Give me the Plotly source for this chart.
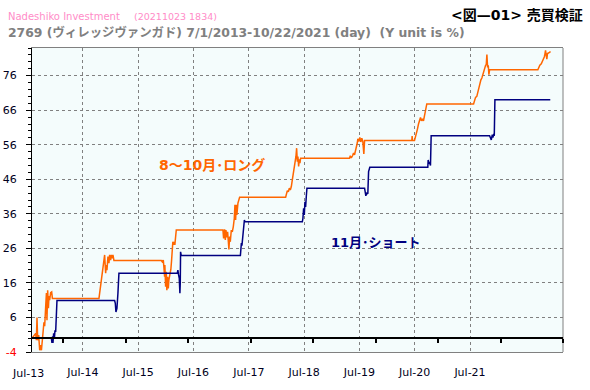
import numpy as np
import pandas as pd
import plotly.graph_objects as go

# ---------------- data (dates as decimal years, values in %) ----------------
long_years = [
    2013.496, 2013.555, 2013.566, 2013.576, 2013.587, 2013.603, 2013.619, 2013.635, 2013.647,
    2013.659, 2013.672, 2013.687, 2013.699, 2013.715, 2013.727, 2013.736, 2013.747, 2013.759,
    2013.768, 2013.779, 2013.795, 2013.811, 2013.823,
    2014.569, 2014.580, 2014.591, 2014.607, 2014.623, 2014.644, 2014.660, 2014.676, 2014.687,
    2014.697, 2014.713, 2014.729, 2014.740, 2014.756, 2014.767, 2014.783, 2014.793, 2014.809,
    2015.568, 2015.584, 2015.600, 2015.609, 2015.621, 2015.625, 2015.637, 2015.648, 2015.657,
    2015.669, 2015.680, 2015.689, 2015.705, 2015.721, 2015.733, 2015.744, 2015.753, 2015.765,
    2015.776, 2015.785, 2015.797, 2015.808,
    2016.554, 2016.565, 2016.581, 2016.592, 2016.602, 2016.618, 2016.629, 2016.640, 2016.650,
    2016.661, 2016.672, 2016.688, 2016.704, 2016.720, 2016.736, 2016.746, 2016.757, 2016.768,
    2016.777, 2016.794, 2016.810, 2016.821,
    2017.558, 2017.569, 2017.585, 2017.601, 2017.617, 2017.633, 2017.649, 2017.665, 2017.681,
    2017.697, 2017.713, 2017.723, 2017.734, 2017.745, 2017.755, 2017.766, 2017.777, 2017.787,
    2017.798,
    2018.582, 2018.594, 2018.610, 2018.630, 2018.646, 2018.662, 2018.678, 2018.694, 2018.706,
    2018.715, 2018.731, 2018.747, 2018.763, 2018.779, 2018.795, 2018.811, 2018.823,
    2019.580, 2019.585, 2019.591,
    2019.623, 2019.639, 2019.655, 2019.671, 2019.687, 2019.703, 2019.719, 2019.735, 2019.751,
    2019.767, 2019.783, 2019.799, 2019.810, 2019.820,
    2020.568, 2020.584, 2020.600, 2020.620, 2020.636, 2020.653, 2020.669, 2020.685, 2020.701,
    2020.717, 2020.733, 2020.749, 2020.760, 2020.771, 2020.781, 2020.792, 2020.803, 2020.813,
    2020.824,
    2021.597, 2021.613, 2021.629, 2021.652, 2021.668, 2021.684, 2021.700, 2021.709, 2021.720,
    2021.732, 2021.741, 2021.752, 2021.768, 2021.784, 2021.800,
]
long_values = [
    0.0, 1.4, -0.6, 6.0, -0.6, 0.9, -3.5, -2.0, -3.5,
    0.9, 1.5, 4.6, 3.5, 9.1, 13.1, 5.2, 13.9, 8.7,
    12.2, 11.0, 13.2, 13.4, 11.5,
    11.5, 13.0, 13.9, 16.3, 18.8, 20.7, 24.1, 18.8, 21.2,
    19.7, 23.6, 21.7, 24.1, 22.6, 24.1, 23.1, 24.1, 22.5,
    22.5, 22.1, 22.6, 20.7, 17.8, 21.2, 14.9, 19.2, 13.9,
    17.8, 14.4, 16.8, 18.3, 19.9, 22.6, 27.5, 27.9, 27.0,
    27.9, 27.0, 29.9, 31.3,
    31.3, 28.9, 31.5, 28.4, 31.3, 29.2, 30.8, 28.4, 25.7,
    29.4, 27.9, 31.3, 30.8, 32.3, 34.7, 38.6, 34.2, 38.6,
    35.7, 39.1, 40.5, 40.8,
    40.8, 41.5, 42.7, 42.4, 43.4, 42.9, 43.9, 45.8, 47.8,
    48.9, 50.7, 52.6, 55.0, 51.1, 52.6, 49.7, 51.8, 50.7,
    52.1,
    52.1, 52.8, 52.2, 52.8, 53.6, 53.1, 54.2, 55.0, 56.5,
    57.7, 56.9, 58.1, 56.8, 57.9, 56.9, 53.3, 57.2,
    57.2, 58.5, 57.2,
    57.2, 58.7, 59.8, 60.6, 62.0, 63.5, 63.9, 62.9, 63.5,
    62.9, 64.7, 65.6, 66.8, 67.8,
    67.8, 68.5, 69.7, 70.0, 71.4, 72.9, 74.2, 74.8, 75.3,
    76.5, 77.2, 78.2, 79.0, 79.2, 82.1, 78.4, 79.0, 76.3,
    77.7,
    77.7, 78.7, 79.0, 79.4, 80.0, 80.6, 81.4, 82.1, 83.3,
    81.8, 80.8, 82.4, 82.5, 82.7, 83.0,
]

short_years = [
    2013.496, 2013.807, 2013.816, 2013.827, 2013.832, 2013.843, 2013.855, 2013.864, 2013.875,
    2013.887, 2013.896,
    2014.820, 2014.831, 2014.841, 2014.857, 2014.873, 2014.889,
    2015.824, 2015.834, 2015.845, 2015.856, 2015.866, 2015.872, 2015.877, 2015.888,
    2016.833, 2016.837, 2016.849, 2016.858, 2016.869, 2016.885, 2016.897, 2016.906,
    2017.825, 2017.835, 2017.846, 2017.857, 2017.867, 2017.878, 2017.889, 2017.899,
    2018.823, 2018.834, 2018.843, 2018.859, 2018.875, 2018.887, 2018.898, 2018.907,
    2019.836, 2019.842, 2019.852, 2019.863, 2019.879, 2019.890,
    2020.824, 2020.840, 2020.851, 2020.867, 2020.877, 2020.888, 2020.899, 2020.909,
    2021.796,
]
short_values = [
    0.0, 0.0, -1.4, 0.5, -1.4, 1.4, 0.0, 2.3, 1.8,
    8.1, 10.9,
    10.9, 10.1, 7.6, 8.6, 13.0, 18.8,
    18.8, 19.7, 18.3, 17.3, 13.0, 16.0, 25.0, 23.9,
    23.9, 26.5, 27.5, 26.8, 28.9, 31.3, 34.2, 33.7,
    33.7, 34.7, 37.6, 35.7, 39.5, 38.0, 41.0, 43.4,
    43.4, 42.4, 41.2, 42.0, 41.8, 48.2, 48.7, 49.5,
    49.5, 51.6, 50.5, 51.0, 50.0, 58.6,
    58.6, 58.0, 57.4, 58.9, 58.1, 58.8, 58.6, 69.0,
    69.0,
]

x_tick_labels = ["Jul-13", "Jul-14", "Jul-15", "Jul-16", "Jul-17",
                 "Jul-18", "Jul-19", "Jul-20", "Jul-21"]
y_tick_values = [-4, 6, 16, 26, 36, 46, 56, 66, 76]
year_marks = [2014, 2015, 2016, 2017, 2018, 2019, 2020, 2021, 2022]

long_label = "8〜10月･ロング"
short_label = "11月･ショート"
title_brand = "Nadeshiko Investment"
title_stamp = "(20211023 1834)"
title_main = "2769 (ヴィレッジヴァンガド) 7/1/2013-10/22/2021 (day)\u00a0 (Y unit is %)"
title_right = "<図—01> 売買検証"

# ---------------- helpers ----------------
def dec_to_dt(y):
    yr = int(np.floor(y))
    start = pd.Timestamp(year=yr, month=1, day=1)
    end = pd.Timestamp(year=yr + 1, month=1, day=1)
    return start + (end - start) * (y - yr)

W, H = 590, 390
ML, MR, MT, MB = 32, 27, 48, 38
PW, PH = W - ML - MR, H - MT - MB

def fx(px):
    return (px - ML) / PW

def fy(py):
    return 1 - (py - MT) / PH

X_RANGE = [pd.Timestamp("2013-07-01"), pd.Timestamp("2022-01-01")]
Y_RANGE = [-4, 84]
GRID_FIRST, GRID_STEP = 2013.427, 0.8855   # label/grid placement of the source chart

grid_dates = [dec_to_dt(GRID_FIRST + k * GRID_STEP) for k in range(len(x_tick_labels))]

FONT = "DejaVu Sans, Verdana, Noto Sans CJK JP, sans-serif"
TICK_COLOR = "#000020"

fig = go.Figure()
fig.add_trace(go.Scatter(
    x=[dec_to_dt(v) for v in long_years], y=long_values, mode="lines",
    line=dict(color="#FF6600", width=1.5), showlegend=False, hoverinfo="skip"))
fig.add_trace(go.Scatter(
    x=[dec_to_dt(v) for v in short_years], y=short_values, mode="lines",
    line=dict(color="#000080", width=1.5), showlegend=False, hoverinfo="skip"))
fig.add_trace(go.Scatter(x=[], y=[], xaxis="x2", showlegend=False))

y_text = [f'<span style="color:red">{v}</span>' if v < 0 else str(v) for v in y_tick_values]

fig.update_layout(
    width=W, height=H,
    margin=dict(l=ML, r=MR, t=MT, b=MB, pad=0, autoexpand=False),
    paper_bgcolor="white", plot_bgcolor="#F4FCFC",
    font=dict(family=FONT, size=11, color=TICK_COLOR),
    xaxis=dict(
        type="date", range=X_RANGE, tickmode="array",
        tickvals=grid_dates[1:], ticktext=x_tick_labels[1:],
        showgrid=True, gridcolor="#808080", griddash="3px,3px", gridwidth=1,
        showline=True, linecolor="#808080", linewidth=1, mirror=True,
        ticks="", ticklabelstandoff=10, zeroline=False, automargin=False,
        tickfont=dict(size=11, color=TICK_COLOR, family=FONT),
    ),
    xaxis2=dict(
        type="date", range=X_RANGE, overlaying="x", anchor="free",
        position=(0 - Y_RANGE[0]) / (Y_RANGE[1] - Y_RANGE[0]), side="bottom",
        tickmode="array", tickvals=[pd.Timestamp(year=y, month=1, day=1) for y in year_marks],
        showticklabels=False, ticks="outside", ticklen=4, tickwidth=2, tickcolor="black",
        showline=True, linecolor="black", linewidth=1.5, showgrid=False, zeroline=False,
        automargin=False,
    ),
    yaxis=dict(
        range=Y_RANGE, tickmode="array", tickvals=y_tick_values, ticktext=y_text,
        showgrid=True, gridcolor="#808080", griddash="3px,3px", gridwidth=1,
        showline=True, linecolor="black", linewidth=1, mirror=False,
        ticks="outside", ticklen=5, tickcolor="black", ticklabelstandoff=7,
        minor=dict(tickmode="linear", tick0=-4, dtick=2, ticks="outside",
                   ticklen=3, tickcolor="black", showgrid=False),
        zeroline=False, automargin=False,
        tickfont=dict(size=11, color=TICK_COLOR, family=FONT),
    ),
    shapes=[dict(type="line", xref="paper", yref="paper", x0=1, x1=1, y0=0, y1=1,
                 line=dict(color="#808080", width=1), layer="below")],
)

ann = [
    dict(text=x_tick_labels[0], x=fx(28.0), y=fy(373.0), xanchor="center", yanchor="middle",
         font=dict(size=11, color=TICK_COLOR, family=FONT)),
    dict(text=title_brand, x=fx(6), y=fy(16), xanchor="left", yanchor="middle",
         font=dict(size=10, color="#FF8CC8", family=FONT)),
    dict(text=title_stamp, x=fx(132), y=fy(16.5), xanchor="left", yanchor="middle",
         font=dict(size=9.5, color="#FF8CC8", family=FONT)),
    dict(text=f"<b>{title_main}</b>", x=fx(6), y=fy(32), xanchor="left", yanchor="middle",
         font=dict(size=12.4, color="#808080", family=FONT)),
    dict(text=f"<b>{title_right}</b>", x=fx(585), y=fy(15), xanchor="right", yanchor="middle",
         font=dict(size=14, color="black", family=FONT)),
    dict(text=f"<b>{long_label}</b>", x=fx(157), y=fy(165), xanchor="left", yanchor="middle",
         font=dict(size=14, color="#FF6600", family=FONT)),
    dict(text=f"<b>{short_label}</b>", x=fx(329), y=fy(242), xanchor="left", yanchor="middle",
         font=dict(size=13, color="#000080", family=FONT)),
]
for a in ann:
    a.update(xref="paper", yref="paper", showarrow=False)
fig.update_layout(annotations=ann)

fig.write_html("out.html")
